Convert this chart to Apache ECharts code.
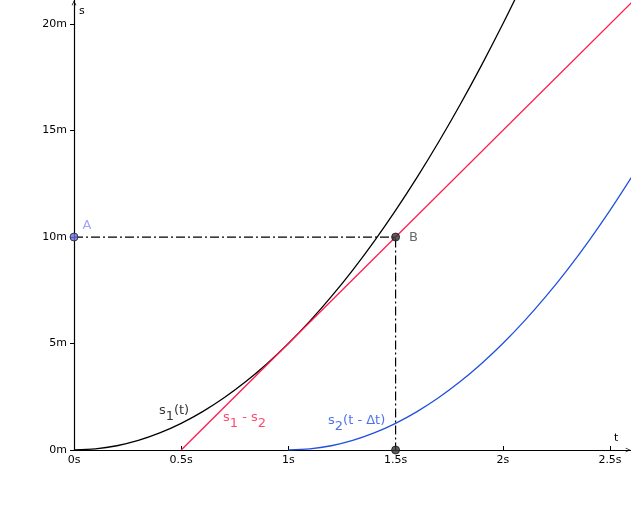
<!DOCTYPE html>
<html><head><meta charset="utf-8">
<script src="https://cdn.jsdelivr.net/npm/echarts@6/dist/echarts.min.js"></script>
<style>html,body{margin:0;padding:0;background:#fff}#c{width:631px;height:512px}</style>
</head><body><div id="c"></div>
<script>
// tick values and labels
const tTicks = [0, 0.5, 1, 1.5, 2, 2.5];
const tTickLabels = ['0s', '0.5s', '1s', '1.5s', '2s', '2.5s'];
const sTicks = [0, 5, 10, 15, 20];
const sTickLabels = ['0m', '5m', '10m', '15m', '20m'];

// s1(t)
const s1T = [0, 0.1, 0.2, 0.3, 0.4, 0.5, 0.6, 0.7, 0.8, 0.9, 1.0, 1.1, 1.2, 1.3, 1.4, 1.5, 1.6, 1.7, 1.8, 1.9, 2.0, 2.1];
const s1V = [0, 0.05, 0.2, 0.45, 0.8, 1.25, 1.8, 2.45, 3.2, 4.05, 5.0, 6.05, 7.2, 8.45, 9.8, 11.25, 12.8, 14.45, 16.2, 18.05, 20.0, 22.05];
// s2(t - Δt)
const s2T = [1.0, 1.1, 1.2, 1.3, 1.4, 1.5, 1.6, 1.7, 1.8, 1.9, 2.0, 2.1, 2.2, 2.3, 2.4, 2.5, 2.6];
const s2V = [0, 0.05, 0.2, 0.45, 0.8, 1.25, 1.8, 2.45, 3.2, 4.05, 5.0, 6.05, 7.2, 8.45, 9.8, 11.25, 12.8];
// s1 - s2
const dT = [0.5, 2.6];
const dV = [0, 21.0];
// points
const pointA = [0, 10];
const pointB = [1.5, 10];
const pointBx = [1.5, 0];

const F = 'DejaVu Sans';
const RED = '#ff1a4a', BLUE = '#2050e0';
const zip = (a, b) => a.map((v, i) => [v, b[i]]);
const chevron = 'path://M0,10 L5,0 L10,10 L8.6,10.6 L5,3.2 L1.4,10.6 Z';

const chart = echarts.init(document.getElementById('c'));
chart.setOption({
  animation: false,
  grid: {left: 74, right: 0, top: 0, bottom: 62},
  xAxis: {
    type: 'value', min: 0, max: 2.598, interval: 0.5,
    splitLine: {show: false},
    axisLine: {onZero: false, lineStyle: {color: '#000', width: 1.2}, symbol: ['none', chevron], symbolSize: [8, 5], symbolOffset: [0, -3]},
    axisTick: {show: true, inside: true, length: 4, lineStyle: {color: '#000'}, customValues: tTicks},
    axisLabel: {color: '#000', fontFamily: F, fontSize: 11, margin: 5, customValues: tTicks,
      formatter: v => tTickLabels[tTicks.indexOf(v)] || ''}
  },
  yAxis: {
    type: 'value', min: 0, max: 21.13, interval: 5,
    splitLine: {show: false},
    axisLine: {onZero: false, lineStyle: {color: '#000', width: 1.2}, symbol: ['none', chevron], symbolSize: [8, 5], symbolOffset: [0, -3]},
    axisTick: {show: true, inside: false, length: 4, lineStyle: {color: '#000'}, customValues: sTicks},
    axisLabel: {color: '#000', fontFamily: F, fontSize: 11, margin: 7, customValues: sTicks,
      formatter: v => sTickLabels[sTicks.indexOf(v)] || ''}
  },
  graphic: [
    {type: 'text', left: 79, top: 6, style: {text: 's', font: '11px DejaVu Sans', fill: '#000'}},
    {type: 'text', left: 614, top: 433, style: {text: 't', font: '11px DejaVu Sans', fill: '#000'}}
  ],
  series: [
    {type: 'line', data: zip(s1T, s1V), smooth: 0.3, showSymbol: false, lineStyle: {color: '#000', width: 1.3}, clip: true, z: 3},
    {type: 'line', data: zip(dT, dV), showSymbol: false, lineStyle: {color: RED, width: 1.3}, clip: true, z: 3},
    {type: 'line', data: zip(s2T, s2V), smooth: 0.3, showSymbol: false, lineStyle: {color: BLUE, width: 1.3}, clip: true, z: 3},
    {type: 'line', data: [pointA, pointB, pointBx], showSymbol: false, lineStyle: {color: '#000', width: 1.2, type: [9, 3, 2, 3]}, z: 4},
    {type: 'scatter', symbolSize: 8, z: 6,
      data: [
        {value: pointA, itemStyle: {color: '#6a6ae0', borderColor: '#222', borderWidth: 1},
          label: {show: true, formatter: 'A', position: 'right', offset: [-1, -11], color: '#8c8cff', fontFamily: F, fontSize: 13}},
        {value: pointB, itemStyle: {color: '#333', borderColor: '#1a1a1a', borderWidth: 1},
          label: {show: true, formatter: 'B', position: 'right', offset: [4, 1], color: '#444', fontFamily: F, fontSize: 13}},
        {value: pointBx, itemStyle: {color: '#333', borderColor: '#1a1a1a', borderWidth: 1}}
      ]},
    {type: 'scatter', symbolSize: 0, z: 7, silent: true,
      label: {show: true, position: 'right', distance: 0, fontFamily: F, fontSize: 13},
      data: [
        {value: [0.396, 1.85], label: {formatter: '{n|s}{b|1}{n|(t)}',
          rich: {n: {color: '#000', fontFamily: F, fontSize: 13}, b: {color: '#000', fontFamily: F, fontSize: 13, padding: [12, 0, 0, 0]}}}},
        {value: [0.695, 1.52], label: {formatter: '{n|s}{b|1}{n| - s}{b|2}',
          rich: {n: {color: RED, fontFamily: F, fontSize: 13}, b: {color: RED, fontFamily: F, fontSize: 13, padding: [12, 0, 0, 0]}}}},
        {value: [1.185, 1.36], label: {formatter: '{n|s}{b|2}{n|(t - Δt)}',
          rich: {n: {color: BLUE, fontFamily: F, fontSize: 13}, b: {color: BLUE, fontFamily: F, fontSize: 13, padding: [12, 0, 0, 0]}}}}
      ]}
  ]
});
</script></body></html>
